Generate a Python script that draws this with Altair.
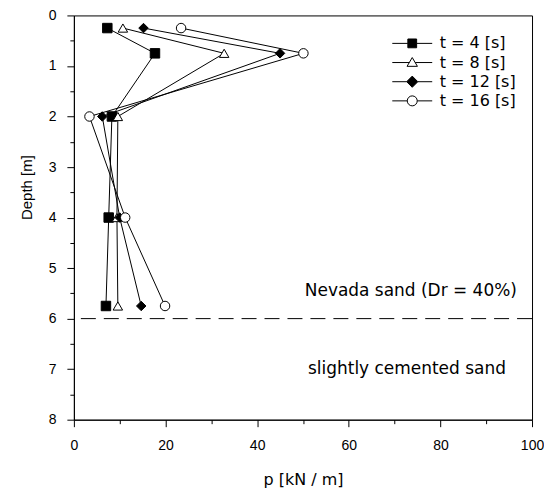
import altair as alt
import pandas as pd

# ---- data ----
depth_m = [0.25, 0.75, 2.0, 4.0, 5.75]
series_names = ["t = 4 [s]", "t = 8 [s]", "t = 12 [s]", "t = 16 [s]"]
p_t4 = [7.3, 17.7, 8.3, 7.6, 7.0]
p_t8 = [10.7, 32.8, 9.6, 9.4, 9.6]
p_t12 = [15.2, 45.0, 6.2, 10.0, 14.7]
p_t16 = [23.4, 50.1, 3.4, 11.2, 19.9]

boundary_depth = [6.0]
annotation_texts = ["Nevada sand (Dr = 40%)", "slightly cemented sand"]
annotation_p = [96.7, 94.3]
annotation_depth = [5.45, 7.0]

x_tick_values = list(range(0, 101, 10))
y_tick_values = [i * 0.5 for i in range(17)]

# ---- tables ----
rows = []
for name, vals in zip(series_names, [p_t4, p_t8, p_t12, p_t16]):
    for d, v in zip(depth_m, vals):
        rows.append({"series": name, "series_pt": name, "depth": d, "p": v})
df = pd.DataFrame(rows)
df_boundary = pd.DataFrame({"depth": boundary_depth})
df_ann = pd.DataFrame({"label": annotation_texts, "p": annotation_p, "depth": annotation_depth})

# ---- styling ----
marker_shapes = ["square", "triangle-up", "diamond", "circle"]
marker_fills = ["black", "white", "black", "white"]
# legend glyphs: line segment with the marker in the middle
legend_shapes = [
    "M-4,0H-0.88M0.88,0H4M-0.88,-0.88H0.88V0.88H-0.88Z",
    "M-4,0H-0.59M0.59,0H4M0,-1L1.04,0.76L-1.04,0.76Z",
    "M-4,0H-1.12M1.12,0H4M0,-1.12L1.12,0L0,1.12L-1.12,0Z",
    "M-4,0H-1M1,0H4M-1,0A1,1 0 1,0 1,0A1,1 0 1,0 -1,0Z",
]

x_scale = alt.Scale(domain=[0, 100], nice=False, zero=False)
y_scale = alt.Scale(domain=[0, 8], reverse=True, nice=False, zero=False)

x_axis = alt.Axis(
    title="p [kN / m]",
    values=x_tick_values,
    labelExpr="datum.value % 20 === 0 ? format(datum.value, 'd') : ''",
    tickSize={"expr": "datum.value % 20 === 0 ? 7 : 4"},
    labelFlush=False,
    labelOverlap=False,
    grid=False,
    labelPadding=12,
    titlePadding=19,
    titleFont="DejaVu Sans",
    titleFontSize=16,
)
y_axis = alt.Axis(
    title="Depth [m]",
    values=y_tick_values,
    labelExpr="datum.value % 1 === 0 ? format(datum.value, 'd') : ''",
    tickSize={"expr": "datum.value % 1 === 0 ? 7 : 4"},
    labelFlush=False,
    labelOverlap=False,
    grid=False,
    labelPadding=11,
    titlePadding=13.5,
    titleY=172,
    titleFont="Liberation Sans",
    titleFontSize=15,
)

X = alt.X("p:Q", scale=x_scale, axis=x_axis)
Y = alt.Y("depth:Q", scale=y_scale, axis=y_axis)

legend_def = alt.Legend(
    title=None,
    orient="none",
    legendX=331,
    legendY=20,
    padding=0,
    labelFont="DejaVu Sans",
    labelFontSize=16,
    labelColor="black",
    labelOffset=19.5,
    rowPadding=3.2,
    symbolSize=100,
    symbolOpacity=1,
    symbolStrokeWidth=1,
)

lines = alt.Chart(df).mark_line(color="black", strokeWidth=1).encode(
    x=X, y=Y, detail="series:N", order=alt.Order("depth:Q")
)

legend_layer = alt.Chart(df).mark_point(
    filled=False, opacity=0, size=100, stroke="black", strokeWidth=1
).encode(
    x=X,
    y=Y,
    shape=alt.Shape("series:N", scale=alt.Scale(domain=series_names, range=legend_shapes), legend=legend_def),
    fill=alt.Fill("series:N", scale=alt.Scale(domain=series_names, range=marker_fills), legend=legend_def),
)

points = alt.Chart(df).mark_point(filled=True, size=90, stroke="black", strokeWidth=1, opacity=1).encode(
    x=X,
    y=Y,
    shape=alt.Shape("series_pt:N", scale=alt.Scale(domain=series_names, range=marker_shapes), legend=None),
    fill=alt.Fill("series_pt:N", scale=alt.Scale(domain=series_names, range=marker_fills), legend=None),
)

boundary = alt.Chart(df_boundary).mark_rule(color="black", strokeWidth=1, strokeDash=[15, 8]).encode(
    y=alt.Y("depth:Q", scale=y_scale, axis=y_axis)
)

annotations = alt.Chart(df_ann).mark_text(
    align="right", baseline="middle", font="DejaVu Sans", fontSize=17, color="black"
).encode(
    x=alt.X("p:Q", scale=x_scale, axis=x_axis),
    y=alt.Y("depth:Q", scale=y_scale, axis=y_axis),
    text="label:N",
)

chart = (
    alt.layer(boundary, lines, legend_layer, points, annotations)
    .resolve_scale(shape="independent", fill="independent")
    .properties(
        width=459,
        height=405,
        background="white",
        padding={"left": 11, "top": 0, "right": 0, "bottom": 0},
    )
    .configure_view(stroke="black", strokeWidth=1)
    .configure_axis(
        labelFont="Liberation Sans",
        labelFontSize=14,
        labelColor="black",
        titleColor="black",
        titleFontWeight="normal",
        domainColor="black",
        tickColor="black",
        domainWidth=1,
        tickWidth=1,
    )
)

chart.save("out.html", embed_options={"renderer": "svg", "actions": False})
